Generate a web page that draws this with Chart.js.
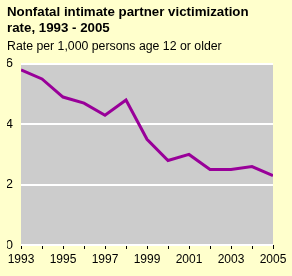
<!DOCTYPE html>
<html>
<head>
<meta charset="utf-8">
<script src="https://cdn.jsdelivr.net/npm/chart.js@4/dist/chart.umd.min.js"></script>
<style>
  html, body { margin: 0; padding: 0; background: #ffffcc; }
  #wrap { width: 292px; height: 276px; }
</style>
</head>
<body>
<div id="wrap"><canvas id="ipvChart" width="292" height="276"></canvas></div>
<script>
const years = [1993, 1994, 1995, 1996, 1997, 1998, 1999, 2000, 2001, 2002, 2003, 2004, 2005];
const rates = [5.8, 5.5, 4.9, 4.7, 4.3, 4.8, 3.5, 2.8, 3.0, 2.5, 2.5, 2.6, 2.3];
const yTicks = [0, 2, 4, 6];

// gray plot background
const plotBg = {
    id: 'plotBg',
    beforeDraw(chart) {
        const { ctx, chartArea } = chart;
        ctx.save();
        ctx.fillStyle = '#cccccc';
        ctx.fillRect(chartArea.left, chartArea.top, chartArea.right - chartArea.left, chartArea.bottom - chartArea.top);
        ctx.restore();
    }
};

const ctx = document.getElementById('ipvChart').getContext('2d');
new Chart(ctx, {
    type: 'line',
    data: {
        datasets: [{
            data: years.map((y, i) => ({ x: y, y: rates[i] })),
            borderColor: '#990099',
            borderWidth: 3,
            pointRadius: 0,
            tension: 0,
            fill: false
        }]
    },
    options: {
        responsive: false,
        animation: false,
        layout: { padding: { left: 7, right: 19, top: 0, bottom: 0 } },
        scales: {
            x: {
                type: 'linear',
                min: years[0],
                max: years[years.length - 1],
                afterFit: s => { s.height = 31; },
                afterBuildTicks: s => { s.ticks = years.map(v => ({ value: v })); },
                ticks: {
                    color: '#000000',
                    font: { family: 'Liberation Sans, Arial', size: 12 },
                    padding: 3,
                    maxRotation: 0,
                    autoSkip: false,
                    callback: v => (v - 1993) % 2 === 0 ? String(v) : ''
                },
                grid: { drawOnChartArea: false, drawTicks: true, tickLength: 4, color: '#000000' },
                border: { display: false }
            },
            y: {
                min: 0,
                max: 6,
                afterFit: s => { s.width = 14; },
                afterBuildTicks: s => { s.ticks = yTicks.map(v => ({ value: v })); },
                ticks: {
                    color: '#000000',
                    font: { family: 'Liberation Sans, Arial', size: 13 },
                    padding: 8
                },
                grid: { color: '#ffffff', lineWidth: 2, drawTicks: false },
                border: { display: false }
            }
        },
        plugins: {
            legend: { display: false },
            tooltip: { enabled: false },
            title: {
                display: true,
                text: ['Nonfatal intimate partner victimization', 'rate, 1993 - 2005'],
                align: 'start',
                color: '#000000',
                font: { family: 'Liberation Sans, Arial', size: 13.3, weight: 'bold', lineHeight: 1.15 },
                padding: { top: 5, bottom: 4 }
            },
            subtitle: {
                display: true,
                text: 'Rate per 1,000 persons age 12 or older',
                align: 'start',
                color: '#000000',
                font: { family: 'Liberation Sans, Arial', size: 12.3 },
                padding: { top: 0, bottom: 9.5 }
            }
        }
    },
    plugins: [plotBg]
});
</script>
</body>
</html>
